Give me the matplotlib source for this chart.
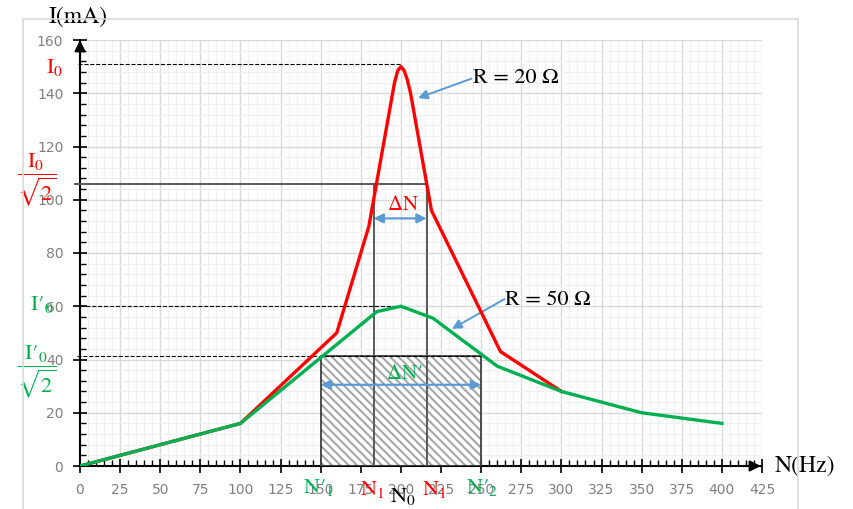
import matplotlib
matplotlib.use("Agg")
import matplotlib.pyplot as plt
from matplotlib.patches import Rectangle
from matplotlib.ticker import MultipleLocator

plt.rcParams['mathtext.fontset'] = 'stix'
plt.rcParams['hatch.linewidth'] = 1.5
plt.rcParams['hatch.color'] = '#a6a6a6'

# resonance curves, current (mA) against frequency (Hz)
freq_r20 = [0, 100, 160, 180, 196, 198, 200, 202, 204, 206, 219, 262, 300]
curr_r20 = [0, 16, 50, 90, 144, 148.5, 150, 148.5, 145, 140, 96, 43, 28]

freq_r50 = [0, 100, 185, 200, 220, 260, 300, 350, 400]
curr_r50 = [0, 16, 58, 60, 55.5, 37.5, 28, 20, 16]

# characteristic levels and bandwidth limits
i0 = 151
i0_sqrt2 = 106
n1, n2 = 183, 216
i0p = 60
i0p_sqrt2 = 41.5
n1p, n2p = 150, 250
n0 = 200

x_ticks = list(range(0, 426, 25))
y_ticks = list(range(0, 161, 20))

RED = '#ff0000'
GREEN = '#00b050'
BLUE = '#5b9bd5'

fig = plt.figure(figsize=(8.54, 5.09), dpi=100)
fig.patches.append(Rectangle((23 / 854, -0.05), 775 / 854, 1 - 19 / 509 + 0.05,
                             transform=fig.transFigure, fill=False,
                             edgecolor='#d9d9d9', lw=1.2))
ax = fig.add_axes([80 / 854, 43 / 509, 682 / 854, 426 / 509])
ax.set_xlim(0, 425)
ax.set_ylim(0, 160)
ax.set_xticks(x_ticks)
ax.set_yticks(y_ticks)
ax.xaxis.set_minor_locator(MultipleLocator(5))
ax.yaxis.set_minor_locator(MultipleLocator(4))
ax.grid(which='major', color='#d9d9d9', lw=1)
ax.grid(which='minor', color='#f0f0f0', lw=0.8)
ax.set_axisbelow(True)
for s in ['top', 'right']:
    ax.spines[s].set_visible(False)
for s in ['left', 'bottom']:
    ax.spines[s].set_linewidth(1.5)
ax.tick_params(which='major', direction='inout', length=10, width=1.2,
               labelcolor='#7f7f7f', labelsize=10, pad=7)
ax.tick_params(which='minor', direction='in', length=4, width=1)

# axis arrows
ax.annotate('', xy=(0, 161), xytext=(0, 150), annotation_clip=False,
            arrowprops=dict(arrowstyle='-|>', color='black', lw=1.5, mutation_scale=16))
ax.annotate('', xy=(426, 0), xytext=(410, 0), annotation_clip=False,
            arrowprops=dict(arrowstyle='-|>', color='black', lw=1.5, mutation_scale=16))

# hatched bandwidth area for R = 50 ohm
ax.add_patch(Rectangle((n1p, 0), n2p - n1p, i0p_sqrt2, facecolor='white',
                       hatch='\\\\\\\\', edgecolor='#a6a6a6', lw=0, zorder=2))
ax.add_patch(Rectangle((n1p, 0), n2p - n1p, i0p_sqrt2, fill=False,
                       edgecolor='#404040', lw=1.3, zorder=3))

# reference levels
ax.plot([-1, n0], [i0, i0], ls='--', color='black', lw=0.8, clip_on=False, zorder=3)
ax.plot([-3, n2], [i0_sqrt2, i0_sqrt2], color='#595959', lw=1.4, clip_on=False, zorder=3)
ax.plot([n1, n1], [0, i0_sqrt2], color='#595959', lw=1.4, zorder=3)
ax.plot([n2, n2], [0, i0_sqrt2], color='#595959', lw=1.4, zorder=3)
ax.plot([0, n0], [i0p, i0p], ls='--', color='black', lw=0.8, zorder=3)
ax.plot([-2, n2p], [i0p_sqrt2, i0p_sqrt2], ls='--', color='black', lw=0.8,
        clip_on=False, zorder=3)

ax.plot(freq_r20, curr_r20, color=RED, lw=2.4, zorder=4)
ax.plot(freq_r50, curr_r50, color=GREEN, lw=2.4, zorder=5)

# bandwidth arrows
ax.annotate('', xy=(n1, 93), xytext=(n2, 93),
            arrowprops=dict(arrowstyle='<|-|>', color=BLUE, lw=1.6, mutation_scale=14,
                            shrinkA=0, shrinkB=0), zorder=6)
ax.text(201, 98.5, r'$\Delta\mathrm{N}$', color=RED, fontsize=15, ha='center', va='center')
ax.annotate('', xy=(n1p, 30.5), xytext=(n2p, 30.5),
            arrowprops=dict(arrowstyle='<|-|>', color=BLUE, lw=1.6, mutation_scale=14,
                            shrinkA=0, shrinkB=0), zorder=6)
ax.text(202, 35, r'$\Delta\mathrm{N′}$', color=GREEN, fontsize=15, ha='center', va='center')

# curve labels
ax.annotate('', xy=(210.6, 138.2), xytext=(244, 145.5),
            arrowprops=dict(arrowstyle='-|>', color=BLUE, lw=1.4, mutation_scale=14,
                            shrinkA=0, shrinkB=0))
ax.text(245, 145.7, 'R = 20 Ω', family='STIXGeneral', fontsize=16, ha='left', va='center')
ax.annotate('', xy=(231.8, 51.5), xytext=(264.5, 62.7),
            arrowprops=dict(arrowstyle='-|>', color=BLUE, lw=1.4, mutation_scale=14,
                            shrinkA=0, shrinkB=0))
ax.text(265, 62.3, 'R = 50 Ω', family='STIXGeneral', fontsize=16, ha='left', va='center')

# axis titles
ax.text(-1, 168.6, 'I(mA)', family='STIXGeneral', fontsize=17, ha='center', va='center',
        bbox=dict(facecolor='white', edgecolor='none', pad=0.5), clip_on=False)
ax.text(433, 0, 'N(Hz)', family='STIXGeneral', fontsize=17, ha='left', va='center',
        clip_on=False)

# level labels on the current axis
ax.text(-16, 149.5, r'$\mathrm{I}_0$', color=RED, fontsize=16, ha='center', va='center')
ax.text(-27, 107.4, r'$\dfrac{\mathrm{I}_0}{\sqrt{2}}$', color=RED, fontsize=16,
        ha='center', va='center')
ax.text(-24, 60.5, r'$\mathrm{I′}_0$', color=GREEN, fontsize=16, ha='center', va='center')
ax.text(-27, 35.3, r'$\dfrac{\mathrm{I′}_0}{\sqrt{2}}$', color=GREEN, fontsize=16,
        ha='center', va='center')

# frequency labels
ax.text(148.5, -8, r'$\mathrm{N′}_1$', color=GREEN, fontsize=16, ha='center', va='center')
ax.text(182, -9, r'$\mathrm{N}_1$', color=RED, fontsize=16, ha='center', va='center')
ax.text(201, -11.6, r'$\mathrm{N}_0$', color='black', fontsize=16, ha='center', va='center')
ax.text(221, -9, r'$\mathrm{N}_1$', color=RED, fontsize=16, ha='center', va='center')
ax.text(250.5, -8, r'$\mathrm{N′}_2$', color=GREEN, fontsize=16, ha='center', va='center')

fig.savefig('out.png', dpi=100)
